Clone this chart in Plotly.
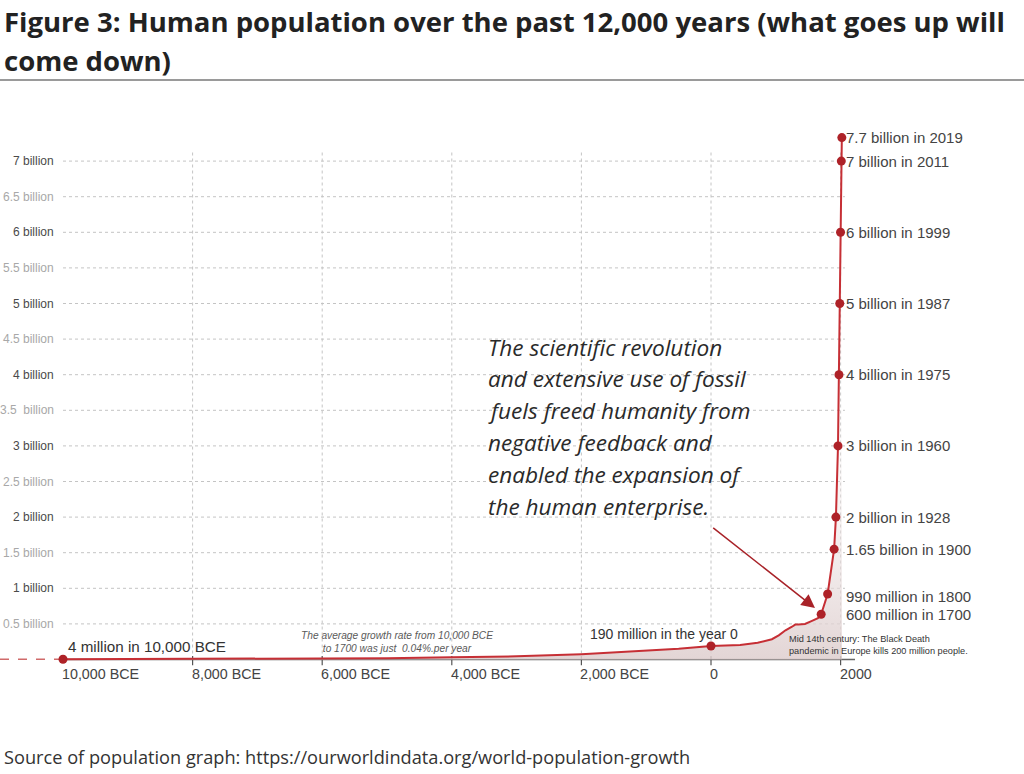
import plotly.graph_objects as go

# ---------------- data ----------------
title_lines = ["Figure 3: Human population over the past 12,000 years (what goes up will",
               "come down)"]
source_text = "Source of population graph: https://ourworldindata.org/world-population-growth"

years = [-10000, -8000, -6000, -5000, -4000, -3000, -2000, -1000, -500, 0,
         450, 720, 940, 1045, 1150, 1250, 1300, 1350, 1450, 1550, 1650, 1700,
         1800, 1900, 1928, 1960, 1975, 1987, 1999, 2011, 2019]
population_bn = [0.004, 0.006, 0.012, 0.018, 0.03, 0.045, 0.075, 0.12, 0.15, 0.19,
                 0.205, 0.235, 0.285, 0.34, 0.41, 0.46, 0.49, 0.49, 0.5, 0.54, 0.58, 0.635,
                 0.92, 1.55, 2.0, 3.0, 4.0, 5.0, 6.0, 7.0, 7.33]

dot_years = [-10000, 0, 1700, 1800, 1900, 1928, 1960, 1975, 1987, 1999, 2011, 2019]
dot_values = [0.004, 0.19, 0.635, 0.92, 1.55, 2.0, 3.0, 4.0, 5.0, 6.0, 7.0, 7.33]

milestone_labels = ["7.7 billion in 2019", "7 billion in 2011", "6 billion in 1999",
                    "5 billion in 1987", "4 billion in 1975", "3 billion in 1960",
                    "2 billion in 1928", "1.65 billion in 1900", "990 million in 1800",
                    "600 million in 1700"]
milestone_values = [7.33, 7.0, 6.0, 5.0, 4.0, 3.0, 2.0, 1.55, 0.88, 0.635]

y_tick_values = [0.5, 1, 1.5, 2, 2.5, 3, 3.5, 4, 4.5, 5, 5.5, 6, 6.5, 7]
y_tick_labels = ["0.5 billion", "1 billion", "1.5 billion", "2 billion", "2.5 billion",
                 "3 billion", "3.5  billion", "4 billion", "4.5 billion", "5 billion",
                 "5.5 billion", "6 billion", "6.5 billion", "7 billion"]
x_tick_values = [-10000, -8000, -6000, -4000, -2000, 0, 2000]
x_tick_labels = ["10,000 BCE", "8,000 BCE", "6,000 BCE", "4,000 BCE", "2,000 BCE", "0", "2000"]

note_lines = ["The scientific revolution", "and extensive use of fossil",
              "fuels freed humanity from", "negative feedback and",
              "enabled the expansion of", "the human enterprise."]
growth_note = "The average growth rate from 10,000 BCE<br>to 1700 was just  0.04%.per year"
black_death_note = "Mid 14th century: The Black Death<br>pandemic in Europe kills 200 million people."
start_label = "4 million in 10,000 BCE"
year0_label = "190 million in the year 0"

# ---------------- layout constants ----------------
W, H = 1024, 774
PX_PER_YEAR = 0.0648
X_ZERO_PX = 711
PX_PER_BN = 71.2
Y_ZERO_PX = 659.5
x_range = [-X_ZERO_PX / PX_PER_YEAR, (W - X_ZERO_PX) / PX_PER_YEAR]
y_range = [(Y_ZERO_PX - H) / PX_PER_BN, Y_ZERO_PX / PX_PER_BN]

RED = "#c62f35"
DOT = "#ae2228"
LABEL_FONT = "Liberation Sans"

fig = go.Figure()

fig.add_trace(go.Scatter(
    x=years, y=population_bn, mode="lines",
    line=dict(color=RED, width=2),
    fill="tozeroy",
    fillgradient=dict(type="vertical", start=0, stop=4.5,
                      colorscale=[[0, "rgba(222,206,206,0.85)"], [1, "rgba(255,255,255,0)"]]),
    hoverinfo="skip", showlegend=False))

fig.add_trace(go.Scatter(
    x=dot_years, y=dot_values, mode="markers",
    marker=dict(color=DOT, size=9),
    hoverinfo="skip", showlegend=False))

shapes = []
for v in y_tick_values:
    shapes.append(dict(type="line", xref="x", yref="y", x0=-10000, x1=2067, y0=v, y1=v,
                       line=dict(color="#c4c4c4", width=1, dash="dot"), layer="below"))
for t in x_tick_values[1:]:
    shapes.append(dict(type="line", xref="x", yref="y", x0=t, x1=t, y0=0, y1=7.16,
                       line=dict(color="#c4c4c4", width=1, dash="dot"), layer="below"))
shapes.append(dict(type="line", xref="x", yref="y", x0=-10000, x1=2222, y0=0, y1=0,
                   line=dict(color="#666666", width=1.5), layer="below"))
for t in x_tick_values[1:]:
    shapes.append(dict(type="line", xref="x", yref="y", x0=t, x1=t, y0=0.05, y1=-0.08,
                       line=dict(color="#555555", width=1.2), layer="below"))
shapes.append(dict(type="line", xref="x", yref="y", x0=x_range[0], x1=-10000,
                   y0=population_bn[0], y1=population_bn[0],
                   line=dict(color="#d06a6a", width=1.5, dash="dash"), layer="below"))
shapes.append(dict(type="line", xref="paper", yref="paper", x0=0, x1=1,
                   y0=1 - 80 / H, y1=1 - 80 / H, line=dict(color="#9a9a9a", width=2)))

ann = []
for i, line in enumerate(title_lines):
    ann.append(dict(xref="paper", yref="paper", x=2 / W, y=1 - (22 + 38 * i) / H,
                    xanchor="left", yanchor="middle", showarrow=False, text=line,
                    font=dict(family="Open Sans", size=27.5, color="#222222", weight=700)))
ann.append(dict(xref="paper", yref="paper", x=2 / W, y=1 - 757 / H, xanchor="left",
                yanchor="middle", showarrow=False, text=source_text,
                font=dict(family="Open Sans", size=18.2, color="#333333")))
for v, lab in zip(y_tick_values, y_tick_labels):
    whole = float(v).is_integer()
    ann.append(dict(x=-10000, y=v, xref="x", yref="y", xanchor="right", yanchor="middle",
                    xshift=-7, showarrow=False, text=lab,
                    font=dict(family=LABEL_FONT, size=12,
                              color="#4a4a4a" if whole else "#a8a8a8")))
for t, lab in zip(x_tick_values, x_tick_labels):
    ann.append(dict(x=t, y=0, xref="x", yref="y", xanchor="left", yanchor="middle",
                    xshift=-3, yshift=-14, showarrow=False, text=lab,
                    font=dict(family=LABEL_FONT, size=14.3, color="#444444")))
for v, lab in zip(milestone_values, milestone_labels):
    ann.append(dict(x=2019, y=v, xref="x", yref="y", xanchor="left", yanchor="middle",
                    xshift=2, showarrow=False, text=lab,
                    font=dict(family=LABEL_FONT, size=15, color="#444444")))
ann.append(dict(x=-10000, y=population_bn[0], xref="x", yref="y", xanchor="left",
                yanchor="middle", xshift=3, yshift=13, showarrow=False, text=start_label,
                font=dict(family=LABEL_FONT, size=15.2, color="#333333")))
ann.append(dict(x=0, y=0.19, xref="x", yref="y", xanchor="right", yanchor="middle",
                xshift=29, yshift=12, showarrow=False, text=year0_label,
                font=dict(family=LABEL_FONT, size=14, color="#333333")))
ann.append(dict(x=-4850, y=0, xref="x", yref="y", xanchor="center", yanchor="middle",
                yshift=18, showarrow=False, text=growth_note,
                font=dict(family=LABEL_FONT, size=10.2, color="#5a5a5a", style="italic")))
ann.append(dict(x=1170, y=0, xref="x", yref="y", xanchor="left", yanchor="middle",
                yshift=15, showarrow=False, text=black_death_note, align="left",
                font=dict(family=LABEL_FONT, size=9.2, color="#333333")))
for i, line in enumerate(note_lines):
    ann.append(dict(xref="paper", yref="paper", x=486 / W, y=1 - (347 + 31.8 * i) / H,
                    xanchor="left", yanchor="middle", showarrow=False, text=line,
                    font=dict(family="Open Sans", size=22.6, color="#2a2a2a", style="italic")))
ann.append(dict(x=1605, y=0.723, ax=11, ay=1.865, xref="x", yref="y", axref="x", ayref="y",
                showarrow=True, arrowhead=2, arrowsize=1.8, arrowwidth=1.5,
                arrowcolor="#a82228", standoff=0, text=""))

fig.update_layout(
    width=W, height=H,
    margin=dict(l=0, r=0, t=0, b=0),
    paper_bgcolor="white", plot_bgcolor="white",
    xaxis=dict(range=x_range, visible=False, fixedrange=True),
    yaxis=dict(range=y_range, visible=False, fixedrange=True),
    shapes=shapes, annotations=ann, showlegend=False,
)

fig.write_html("out.html", config={"displayModeBar": False},
               post_script="document.body.style.margin='0px';document.body.style.overflow='hidden';")
